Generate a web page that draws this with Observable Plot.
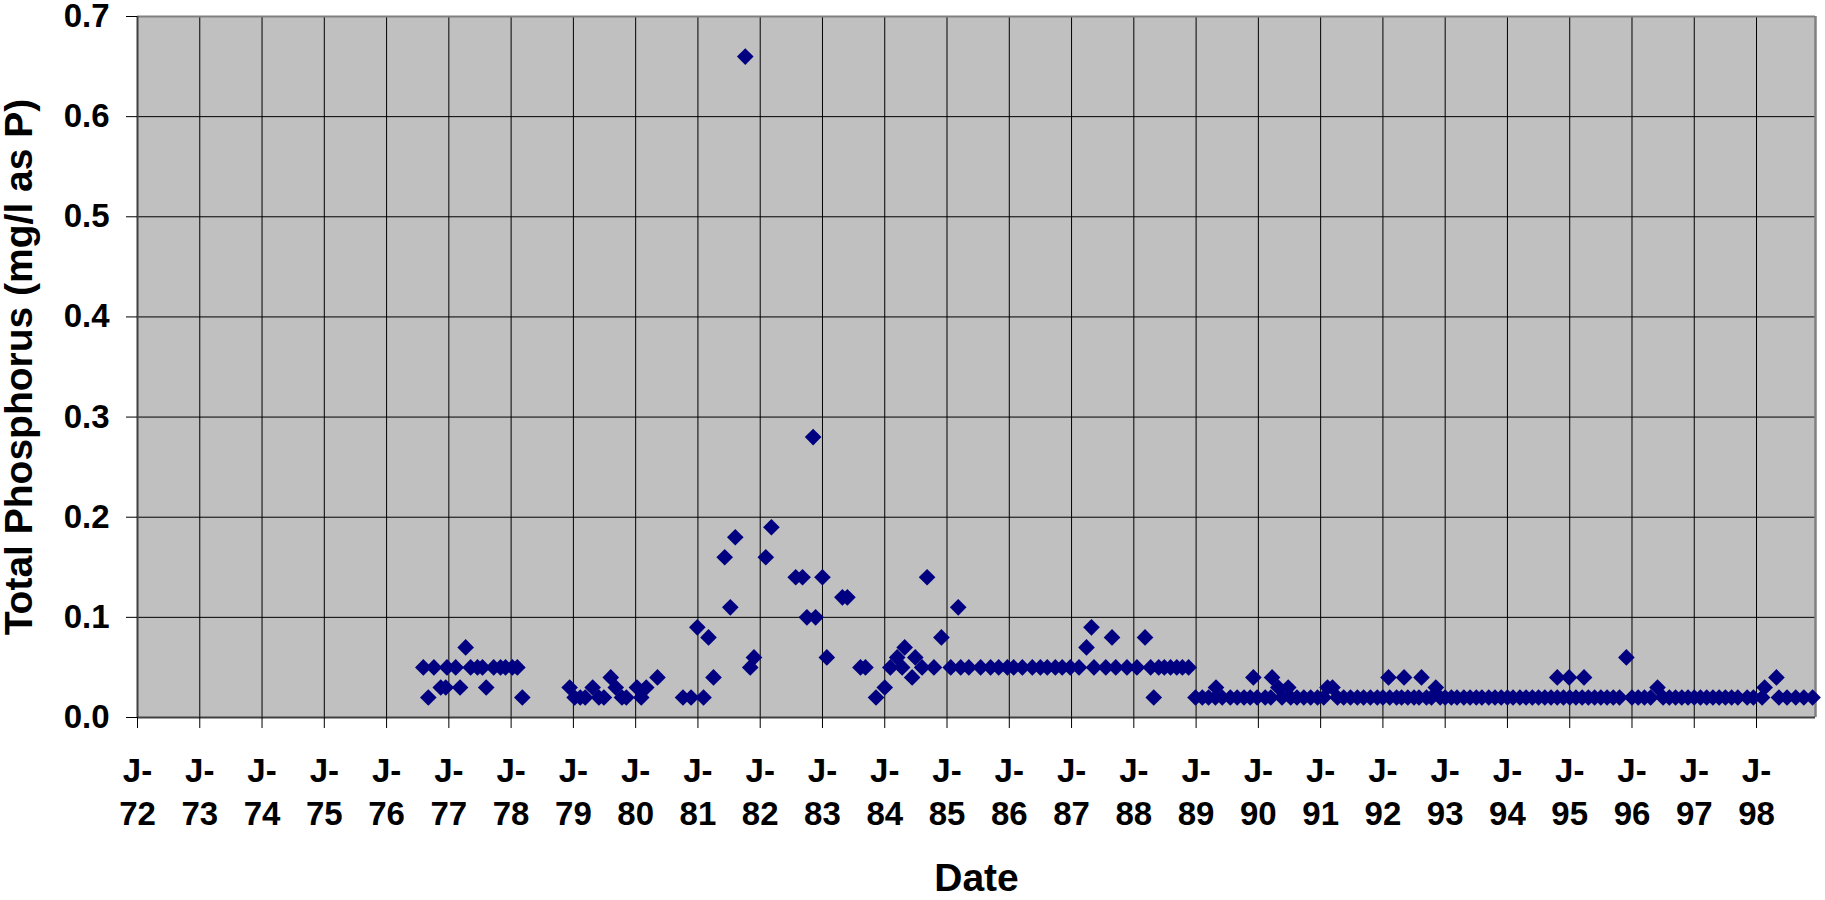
<!DOCTYPE html>
<html>
<head>
<meta charset="utf-8">
<script src="https://cdn.jsdelivr.net/npm/d3@7"></script>
<script src="https://cdn.jsdelivr.net/npm/@observablehq/plot@0.6"></script>
<style>
  body { margin: 0; background: #fff; }
  svg { font-family: "Liberation Sans", Arial, sans-serif; }
</style>
</head>
<body>
<div id="chart"></div>
<script>
// Sample dates (decimal years) and total phosphorus (mg/l as P)
const sampleYears = [
  1976.59, 1976.67, 1976.76, 1976.87, 1976.95, 1976.97, 1977.11, 1977.18, 1977.27, 1977.35,
  1977.46, 1977.54, 1977.60, 1977.72, 1977.83, 1977.91, 1978.02, 1978.10, 1978.18,
  1978.94, 1979.02, 1979.11, 1979.19, 1979.31, 1979.41, 1979.49, 1979.60, 1979.68, 1979.78,
  1979.85, 1980.02, 1980.09, 1980.17, 1980.35,
  1980.76, 1980.89, 1980.99, 1981.09, 1981.17, 1981.25, 1981.43, 1981.52, 1981.60, 1981.76,
  1981.84, 1981.90, 1982.09, 1982.18, 1982.57, 1982.68, 1982.75, 1982.85, 1982.89, 1983.00,
  1983.07, 1983.32, 1983.40, 1983.61, 1983.69, 1983.86, 1984.00, 1984.09, 1984.20, 1984.28,
  1984.32, 1984.44, 1984.49, 1984.60, 1984.68, 1984.79, 1984.91,
  1985.06, 1985.18, 1985.22, 1985.35, 1985.54, 1985.70, 1985.83, 1985.97, 1986.07, 1986.21,
  1986.37, 1986.50, 1986.61, 1986.74, 1986.85, 1986.98, 1987.12, 1987.24, 1987.32, 1987.36,
  1987.55, 1987.65, 1987.71, 1987.89, 1988.05, 1988.18, 1988.27, 1988.32, 1988.40, 1988.49,
  1988.59, 1988.69, 1988.78, 1988.88,
  1988.99, 1989.10, 1989.20, 1989.31, 1989.32, 1989.42, 1989.55, 1989.66, 1989.77, 1989.87,
  1989.92, 1989.98, 1990.11, 1990.20, 1990.22, 1990.32, 1990.38, 1990.48, 1990.52, 1990.62,
  1990.73, 1990.84, 1990.95, 1991.05, 1991.11, 1991.19, 1991.27, 1991.37, 1991.48, 1991.59,
  1991.69, 1991.80, 1991.91,
  1992.00, 1992.09, 1992.11, 1992.22, 1992.30, 1992.34, 1992.40, 1992.50, 1992.58, 1992.62,
  1992.70, 1992.78, 1992.85, 1992.92, 1993.00, 1993.10, 1993.19, 1993.30, 1993.40, 1993.50,
  1993.59, 1993.70, 1993.80, 1993.90, 1994.00, 1994.09, 1994.20, 1994.30, 1994.40, 1994.50,
  1994.60, 1994.70, 1994.80, 1994.80, 1994.90, 1994.99, 1995.00, 1995.10, 1995.20, 1995.23,
  1995.30, 1995.40, 1995.50, 1995.60, 1995.70, 1995.80, 1995.91, 1996.00, 1996.10, 1996.20,
  1996.30, 1996.41, 1996.50, 1996.60, 1996.70, 1996.80, 1996.90, 1997.00, 1997.10, 1997.20,
  1997.30, 1997.40, 1997.50, 1997.60, 1997.70, 1997.85, 1997.95, 1998.09, 1998.13, 1998.32,
  1998.36, 1998.49, 1998.63, 1998.76, 1998.90
];
const phosphorus = [
  0.05, 0.02, 0.05, 0.03, 0.03, 0.05, 0.05, 0.03, 0.07, 0.05,
  0.05, 0.05, 0.03, 0.05, 0.05, 0.05, 0.05, 0.05, 0.02,
  0.03, 0.02, 0.02, 0.02, 0.03, 0.02, 0.02, 0.04, 0.03, 0.02,
  0.02, 0.03, 0.02, 0.03, 0.04,
  0.02, 0.02, 0.09, 0.02, 0.08, 0.04, 0.16, 0.11, 0.18, 0.66,
  0.05, 0.06, 0.16, 0.19, 0.14, 0.14, 0.10, 0.28, 0.10, 0.14,
  0.06, 0.12, 0.12, 0.05, 0.05, 0.02, 0.03, 0.05, 0.06, 0.05,
  0.07, 0.04, 0.06, 0.05, 0.14, 0.05, 0.08,
  0.05, 0.11, 0.05, 0.05, 0.05, 0.05, 0.05, 0.05, 0.05, 0.05,
  0.05, 0.05, 0.05, 0.05, 0.05, 0.05, 0.05, 0.07, 0.09, 0.05,
  0.05, 0.08, 0.05, 0.05, 0.05, 0.08, 0.05, 0.02, 0.05, 0.05,
  0.05, 0.05, 0.05, 0.05,
  0.02, 0.02, 0.02, 0.02, 0.03, 0.02, 0.02, 0.02, 0.02, 0.02,
  0.04, 0.02, 0.02, 0.02, 0.04, 0.03, 0.02, 0.03, 0.02, 0.02,
  0.02, 0.02, 0.02, 0.02, 0.03, 0.03, 0.02, 0.02, 0.02, 0.02,
  0.02, 0.02, 0.02,
  0.02, 0.04, 0.02, 0.02, 0.02, 0.04, 0.02, 0.02, 0.02, 0.04,
  0.02, 0.02, 0.03, 0.02, 0.02, 0.02, 0.02, 0.02, 0.02, 0.02,
  0.02, 0.02, 0.02, 0.02, 0.02, 0.02, 0.02, 0.02, 0.02, 0.02,
  0.02, 0.02, 0.02, 0.04, 0.02, 0.04, 0.02, 0.02, 0.02, 0.04,
  0.02, 0.02, 0.02, 0.02, 0.02, 0.02, 0.06, 0.02, 0.02, 0.02,
  0.02, 0.03, 0.02, 0.02, 0.02, 0.02, 0.02, 0.02, 0.02, 0.02,
  0.02, 0.02, 0.02, 0.02, 0.02, 0.02, 0.02, 0.02, 0.03, 0.04,
  0.02, 0.02, 0.02, 0.02, 0.02
];
const yTicks = [0, 0.1, 0.2, 0.3, 0.4, 0.5, 0.6, 0.7];
const yearTicks = [1972, 1973, 1974, 1975, 1976, 1977, 1978, 1979, 1980, 1981, 1982, 1983, 1984,
  1985, 1986, 1987, 1988, 1989, 1990, 1991, 1992, 1993, 1994, 1995, 1996, 1997, 1998];
const yearLabels = ["72", "73", "74", "75", "76", "77", "78", "79", "80", "81", "82", "83", "84",
  "85", "86", "87", "88", "89", "90", "91", "92", "93", "94", "95", "96", "97", "98"];
const yTitle = "Total Phosphorus (mg/l as P)";
const xTitle = "Date";
const xDomain = [1972, 1998.947];
const yDomain = [0, 0.7];

const data = sampleYears.map((t, i) => ({t, p: phosphorus[i]}));
const labelOf = new Map(yearTicks.map((y, i) => [y, yearLabels[i]]));

const chart = Plot.plot({
  width: 1825,
  height: 900,
  marginLeft: 137,
  marginRight: 10,
  marginTop: 16,
  marginBottom: 183,
  style: {background: "#fff", color: "#000", fontFamily: "'Liberation Sans', Arial, sans-serif", overflow: "visible"},
  x: {type: "linear", domain: xDomain},
  y: {domain: yDomain},
  marks: [
    Plot.frame({fill: "#C0C0C0"}),
    Plot.ruleY(yTicks.slice(1, -1), {stroke: "#000", strokeWidth: 1}),
    Plot.ruleX(yearTicks.slice(1), {stroke: "#000", strokeWidth: 1}),
    Plot.ruleY([0.7], {stroke: "#808080", strokeWidth: 2}),
    Plot.ruleX([xDomain[1]], {stroke: "#808080", strokeWidth: 2.5}),
    Plot.ruleX([xDomain[0]], {stroke: "#404040", strokeWidth: 2}),
    Plot.ruleY([0], {stroke: "#404040", strokeWidth: 2}),
    Plot.axisY({ticks: yTicks, tickSize: 11, tickPadding: 17, tickFormat: d => d.toFixed(1),
      fontSize: 33, fontWeight: "bold", label: null}),
    Plot.axisX({ticks: yearTicks, tickSize: 11, tickFormat: () => "", label: null}),
    Plot.text(yearTicks, {x: d => d, frameAnchor: "bottom", lineAnchor: "middle", dy: 53.5, text: () => "J-",
      fontSize: 33, fontWeight: "bold", fill: "#000"}),
    Plot.text(yearTicks, {x: d => d, frameAnchor: "bottom", lineAnchor: "middle", dy: 96.5, text: d => labelOf.get(d),
      fontSize: 33, fontWeight: "bold", fill: "#000"}),
    Plot.text([yTitle], {frameAnchor: "left", textAnchor: "middle", lineAnchor: "middle", dx: -117.5, rotate: -90, text: d => d,
      fontSize: 39, fontWeight: "bold", fill: "#000"}),
    Plot.text([xTitle], {frameAnchor: "bottom", lineAnchor: "middle", dy: 161, text: d => d,
      fontSize: 39, fontWeight: "bold", fill: "#000"}),
    Plot.dot(data, {x: "t", y: "p", symbol: "diamond2", r: 7.5, fill: "#000080", stroke: "none"})
  ]
});
document.getElementById("chart").appendChild(chart);
</script>
</body>
</html>
